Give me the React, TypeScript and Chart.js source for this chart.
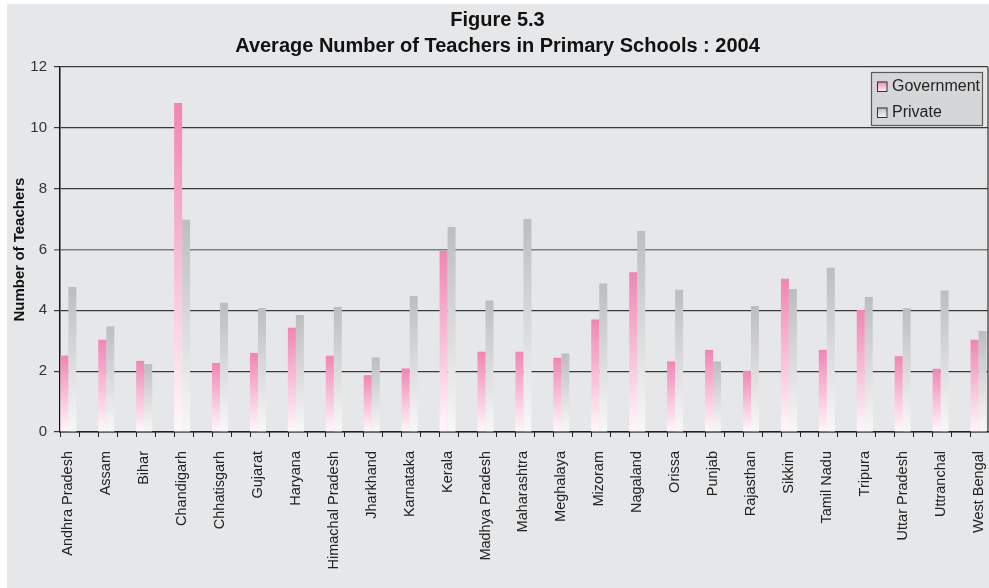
import React, { useEffect, useRef } from "react";
import { Chart, registerables } from "chart.js";

Chart.register(...registerables);

const titleLines = ["Figure 5.3", "Average Number of Teachers in Primary Schools : 2004"];
const yAxisTitle = "Number of Teachers";
const categories = [
  "Andhra Pradesh", "Assam", "Bihar", "Chandigarh", "Chhatisgarh", "Gujarat", "Haryana",
  "Himachal Pradesh", "Jharkhand", "Karnataka", "Kerala", "Madhya Pradesh", "Maharashtra",
  "Meghalaya", "Mizoram", "Nagaland", "Orissa", "Punjab", "Rajasthan", "Sikkim",
  "Tamil Nadu", "Tripura", "Uttar Pradesh", "Uttranchal", "West Bengal",
];
const seriesNames = ["Government", "Private"];
const government = [2.51, 3.03, 2.34, 10.82, 2.27, 2.6, 3.43, 2.51, 1.87, 2.09, 5.95, 2.64, 2.64, 2.44, 3.7, 5.25, 2.32, 2.7, 2.01, 5.04, 2.7, 4.01, 2.49, 2.08, 3.03];
const privateSchools = [4.77, 3.47, 2.23, 6.98, 4.25, 4.08, 3.85, 4.11, 2.45, 4.47, 6.74, 4.32, 7.0, 2.58, 4.88, 6.61, 4.68, 2.32, 4.14, 4.7, 5.4, 4.44, 4.07, 4.65, 3.32];
const yMin = 0;
const yMax = 12;
const yStep = 2;

const FONT = "'Liberation Sans', Arial, Helvetica, sans-serif";
const BG = "#e6e7e9";
const PINK_TOP = "#f185b4";
const PINK_BOTTOM = "#fff8fb";
const GRAY_TOP = "#bcbdbf";
const GRAY_BOTTOM = "#f8f8f8";

function gradientFill(top: string, bottom: string) {
  return (ctx: any) => {
    const chart = ctx.chart;
    const area = chart.chartArea;
    if (!area || ctx.type !== "data" || !ctx.parsed) return top;
    const y = chart.scales.y;
    const t = y.getPixelForValue(ctx.parsed.y);
    const b = y.getPixelForValue(0);
    if (!isFinite(t) || !isFinite(b) || b - t < 1) return top;
    const g = chart.ctx.createLinearGradient(0, t, 0, b);
    g.addColorStop(0, top);
    g.addColorStop(1, bottom);
    return g;
  };
}

const framePlugin = {
  id: "frame",
  afterDraw(chart: any) {
    const { ctx, chartArea, scales } = chart;
    const x = scales.x;
    ctx.save();
    // right border
    ctx.strokeStyle = "#333";
    ctx.lineWidth = 1.2;
    ctx.beginPath();
    ctx.moveTo(chartArea.right, chartArea.top);
    ctx.lineTo(chartArea.right, chartArea.bottom);
    ctx.stroke();
    // x tick marks every half category
    ctx.strokeStyle = "#222";
    ctx.lineWidth = 1;
    for (let v = x.min; v <= x.max + 1e-6; v += 0.5) {
      const px = Math.round(x.getPixelForValue(v)) + 0.5;
      ctx.beginPath();
      ctx.moveTo(px, chartArea.bottom);
      ctx.lineTo(px, chartArea.bottom + 5);
      ctx.stroke();
    }
    // legend box
    const w = 112, h = 54;
    const left = chartArea.right - 5 - w;
    const top = chartArea.top + 5;
    ctx.fillStyle = "#d5d6d8";
    ctx.fillRect(left, top, w, h);
    ctx.strokeStyle = "#5a5a5a";
    ctx.lineWidth = 1.2;
    ctx.strokeRect(left + 0.5, top + 0.5, w - 1, h - 1);
    const rows = [
      { name: chart.data.datasets[0].label, c1: PINK_TOP, c2: PINK_BOTTOM, cy: top + 15 },
      { name: chart.data.datasets[1].label, c1: "#b8b9bb", c2: "#fafafa", cy: top + 41 },
    ];
    ctx.font = `16px ${FONT}`;
    ctx.textBaseline = "middle";
    ctx.textAlign = "left";
    for (const r of rows) {
      const sx = left + 6, sy = r.cy - 5.5, s = 10.5;
      const g = ctx.createLinearGradient(0, sy, 0, sy + s);
      g.addColorStop(0, r.c1);
      g.addColorStop(1, r.c2);
      ctx.fillStyle = g;
      ctx.fillRect(sx, sy, s, s);
      ctx.strokeStyle = "#333";
      ctx.lineWidth = 1;
      ctx.strokeRect(sx + 0.5, sy + 0.5, s - 1, s - 1);
      ctx.fillStyle = "#222";
      ctx.fillText(r.name, left + 21, r.cy);
    }
    ctx.restore();
  },
};

export default function App() {
  const ref = useRef<HTMLCanvasElement | null>(null);
  useEffect(() => {
    if (!ref.current) return;
    const chart = new Chart(ref.current, {
      type: "bar",
      data: {
        datasets: [
          {
            label: seriesNames[0],
            data: categories.map((_, i) => ({ x: i, y: government[i] })),
            backgroundColor: gradientFill(PINK_TOP, PINK_BOTTOM),
            borderWidth: 0,
            categoryPercentage: 0.422,
            barPercentage: 1,
          },
          {
            label: seriesNames[1],
            data: categories.map((_, i) => ({ x: i, y: privateSchools[i] })),
            backgroundColor: gradientFill(GRAY_TOP, GRAY_BOTTOM),
            borderWidth: 0,
            categoryPercentage: 0.422,
            barPercentage: 1,
          },
        ],
      },
      options: {
        responsive: false,
        animation: false,
        layout: { padding: { left: 0, right: 1, top: 0, bottom: 0 } },
        plugins: {
          legend: { display: false },
          tooltip: { enabled: false },
          title: {
            display: true,
            text: titleLines,
            color: "#111",
            font: { family: FONT, size: 20, weight: "bold", lineHeight: 1.3 },
            padding: { top: 3, bottom: 8 },
          },
        },
        scales: {
          x: {
            type: "linear",
            min: -0.22,
            max: 24.25,
            offset: false,
            grid: { display: false, offset: false },
            border: { display: true, color: "#222", width: 1.5 },
            afterFit: (s: any) => {
              s.height = 156;
              s.paddingLeft = 0;
              s.paddingRight = 0;
            },
            ticks: {
              stepSize: 1,
              autoSkip: false,
              includeBounds: false,
              minRotation: 90,
              maxRotation: 90,
              padding: 11,
              color: "#222",
              font: { family: FONT, size: 14.5 },
              callback: (v: any) => (Number.isInteger(v) ? categories[v] : ""),
            },
          },
          y: {
            min: yMin,
            max: yMax,
            grid: {
              color: (c: any) => (c.tick && c.tick.value === 6 ? "#7d7d7d" : "#3a3a3a"),
              lineWidth: (c: any) => (c.tick && c.tick.value === 6 ? 1.6 : 1.2),
              tickLength: 6,
              drawTicks: true,
            },
            border: { display: true, color: "#111", width: 1.5 },
            afterFit: (s: any) => { s.width = 53; },
            title: {
              display: true,
              text: yAxisTitle,
              color: "#111",
              font: { family: FONT, size: 15, weight: "bold", lineHeight: 1.2 },
              padding: { top: 4, bottom: 0 },
            },
            ticks: {
              stepSize: yStep,
              padding: 7,
              color: "#333",
              font: { family: FONT, size: 15 },
            },
          },
        },
      },
      plugins: [framePlugin],
    } as any);
    return () => chart.destroy();
  }, []);

  return (
    <div
      style={{
        position: "absolute",
        left: 7,
        top: 4,
        width: 982,
        height: 584,
        background: BG,
      }}
    >
      <canvas ref={ref} width={982} height={584} style={{ display: "block" }} />
    </div>
  );
}
